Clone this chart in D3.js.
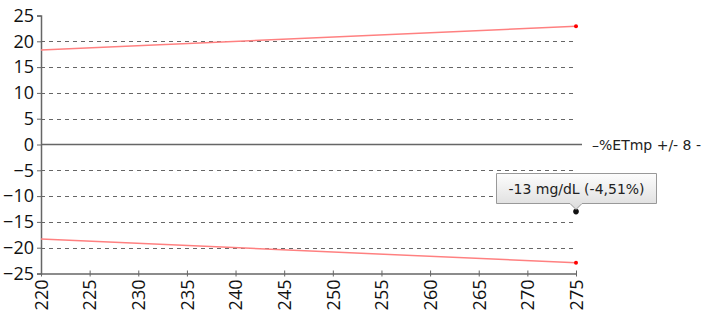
<!DOCTYPE html>
<html>
<head>
<meta charset="utf-8">
<script src="https://cdn.jsdelivr.net/npm/d3@7"></script>
<style>
body { margin: 0; background: #fff; }
.tickLbl { font-family: "Open Sans", "Noto Sans", sans-serif; font-size: 18px; fill: #111; }
</style>
</head>
<body>
<div id="chart"></div>
<script>
// chart data
var xTicks = [220, 225, 230, 235, 240, 245, 250, 255, 260, 265, 270, 275];
var yTicks = [25, 20, 15, 10, 5, 0, -5, -10, -15, -20, -25];
var limitX = [220, 275];
var upperLimit = [18.33, 22.92];
var lowerLimit = [-18.33, -22.92];
var pointX = [275];
var pointY = [-13];
var pointLabel = ["-13 mg/dL (-4,51%)"];
var legendLabel = "\u2013%ETmp +/- 8 -";

var width = 705, height = 310;
var padLeft = 41, padRight = 576, padTop = 15.5, padBottom = 273.5;

var svg = d3.select("#chart").append("svg")
	.attr("width", width)
	.attr("height", height);

var xscale = d3.scaleLinear().domain([220, 275]).range([padLeft, padRight]);
var yscale = d3.scaleLinear().domain([-25, 25]).range([padBottom, padTop]);

// dashed grid
svg.selectAll("line.grid")
	.data(yTicks.filter(function(d) { return d != 0 && d != 25 && d != -25; }))
	.enter().append("line")
		.attr("class", "grid")
		.attr("x1", padLeft).attr("x2", padRight)
		.attr("y1", function(d) { return Math.round(yscale(d)) + 0.5; })
		.attr("y2", function(d) { return Math.round(yscale(d)) + 0.5; })
		.attr("stroke", "#666")
		.attr("stroke-dasharray", "4,4");

// zero line
svg.append("line")
	.attr("x1", padLeft).attr("x2", 582)
	.attr("y1", yscale(0)).attr("y2", yscale(0))
	.attr("stroke", "#666").attr("stroke-width", 1.5);

// axes
var yaxis = d3.axisLeft(yscale).tickValues(yTicks).tickSize(4).tickPadding(3);
var gy = svg.append("g").attr("transform", "translate(" + padLeft + ",0)").call(yaxis);
gy.select(".domain").attr("stroke", "#666").attr("stroke-width", 1.5);
gy.selectAll(".tick line").attr("stroke", "#666");
gy.selectAll(".tick text").attr("class", "tickLbl").attr("font-size", null).attr("font-family", null);

var xaxis = d3.axisBottom(xscale).tickValues(xTicks).tickSize(3).tickSizeOuter(0);
var gx = svg.append("g").attr("transform", "translate(0," + padBottom + ")").call(xaxis);
gx.select(".domain").attr("stroke", "#666").attr("stroke-width", 1.5);
gx.selectAll(".tick line").attr("stroke", "#666").attr("y1", -3);
gx.selectAll(".tick text")
	.attr("class", "tickLbl").attr("font-size", null).attr("font-family", null)
	.attr("transform", "rotate(-90)")
	.attr("x", -6).attr("y", 0).attr("dy", "0.35em")
	.attr("text-anchor", "end");

// limit lines
var line = d3.line().x(function(d, i) { return xscale(limitX[i]); }).y(function(d) { return yscale(d); });
[upperLimit, lowerLimit].forEach(function(arr) {
	svg.append("path").attr("d", line(arr))
		.attr("fill", "none").attr("stroke", "#ff8080").attr("stroke-width", 1.5);
	svg.append("circle")
		.attr("cx", xscale(limitX[1])).attr("cy", yscale(arr[1]))
		.attr("r", 2).attr("fill", "#f00");
});

// legend
svg.append("text")
	.attr("x", 592).attr("y", yscale(0) + 5)
	.attr("font-family", "DejaVu Sans, sans-serif").attr("font-size", 14)
	.attr("fill", "#222")
	.text(legendLabel);

// point with tooltip
pointX.forEach(function(px, i) {
	var cx = xscale(px), cy = yscale(pointY[i]);
	svg.append("circle").attr("cx", cx).attr("cy", cy).attr("r", 2.8).attr("fill", "#111");

	var defs = svg.append("defs");
	var grad = defs.append("linearGradient").attr("id", "tipGrad")
		.attr("x1", 0).attr("x2", 0).attr("y1", 0).attr("y2", 1);
	grad.append("stop").attr("offset", "0%").attr("stop-color", "#fdfdfd");
	grad.append("stop").attr("offset", "100%").attr("stop-color", "#dcdcdc");

	var bx = 496.5, by = 173.5, bw = 160, bh = 30;
	var tip = "M" + bx + "," + by + " H" + (bx + bw) + " V" + (by + bh) +
		" H" + (cx + 6) + " L" + cx + "," + (by + bh + 6) + " L" + (cx - 6) + "," + (by + bh) +
		" H" + bx + " Z";
	svg.append("path").attr("d", tip)
		.attr("fill", "url(#tipGrad)").attr("stroke", "#999");
	svg.append("text")
		.attr("x", bx + bw / 2).attr("y", by + 20)
		.attr("text-anchor", "middle")
		.attr("font-family", "DejaVu Sans, sans-serif").attr("font-size", 14)
		.attr("fill", "#222")
		.text(pointLabel[i]);
});
</script>
</body>
</html>
